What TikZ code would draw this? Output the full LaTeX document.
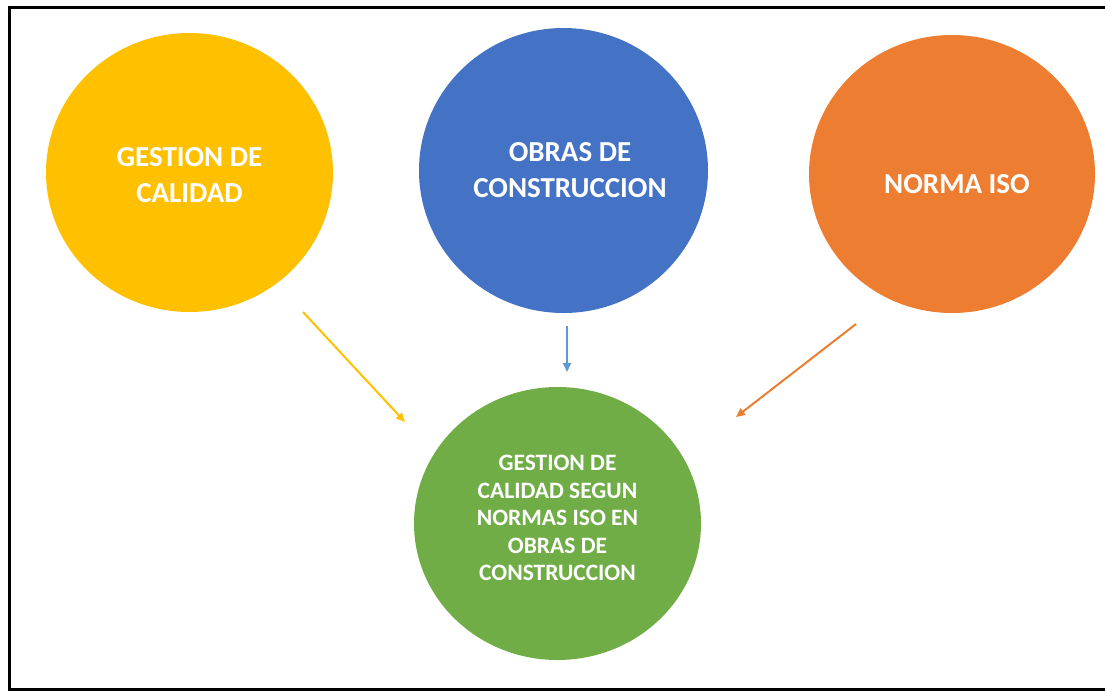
\documentclass[tikz,border=0pt]{standalone}
\usepackage{fontspec}
\setmainfont{Carlito}
\usetikzlibrary{shapes.geometric,arrows.meta}
\definecolor{cyellow}{HTML}{FFC000}
\definecolor{cblue}{HTML}{4472C4}
\definecolor{corange}{HTML}{ED7D31}
\definecolor{cgreen}{HTML}{70AD47}
\definecolor{carrowblue}{HTML}{5B9BD5}
\tikzset{
  bubble/.style={ellipse, inner sep=0pt},
  bigtext/.style={text=white, align=center, inner sep=0pt, font=\bfseries\fontsize{29}{36}\selectfont},
  smalltext/.style={bigtext, font=\bfseries\fontsize{23.5}{27.5}\selectfont},
  link/.style={line width=2pt, -{Triangle[length=9pt,width=8pt]}}
}
\begin{document}
\begin{tikzpicture}[x=1pt,y=-1pt]
\useasboundingbox (0,0) rectangle (1105,691);
\draw[line width=3pt] (9,7.5) rectangle (1115,689.5);
\node[bubble, fill=cyellow, minimum width=287pt, minimum height=279pt] (gc) at (189.5,172.5) {};
\node[bubble, fill=cblue, minimum width=289pt, minimum height=285pt] (oc) at (563.5,170.5) {};
\node[bubble, fill=corange, minimum width=286pt, minimum height=278pt] (iso) at (952,174) {};
\node[bubble, fill=cgreen, minimum width=287pt, minimum height=273pt] (res) at (557.5,523.5) {};
\node[bigtext] (gct) at (189.5,175.5) {GESTION DE\\CALIDAD};
\node[bigtext] (oct) at (570,170) {OBRAS DE\\CONSTRUCCION};
\node[bigtext] (isot) at (957,184) {NORMA ISO};
\node[smalltext] (rest) at (557.5,518) {GESTION DE\\CALIDAD SEGUN\\NORMAS ISO EN\\OBRAS DE\\CONSTRUCCION};
\coordinate (a1s) at (303,312);
\coordinate (a1e) at (405,422);
\coordinate (a2s) at (567,326);
\coordinate (a2e) at (567,372);
\coordinate (a3s) at (856,324);
\coordinate (a3e) at (736,417);
\draw[link, cyellow] (a1s) -- (a1e);
\draw[link, carrowblue] (a2s) -- (a2e);
\draw[link, corange] (a3s) -- (a3e);
\end{tikzpicture}
\end{document}
